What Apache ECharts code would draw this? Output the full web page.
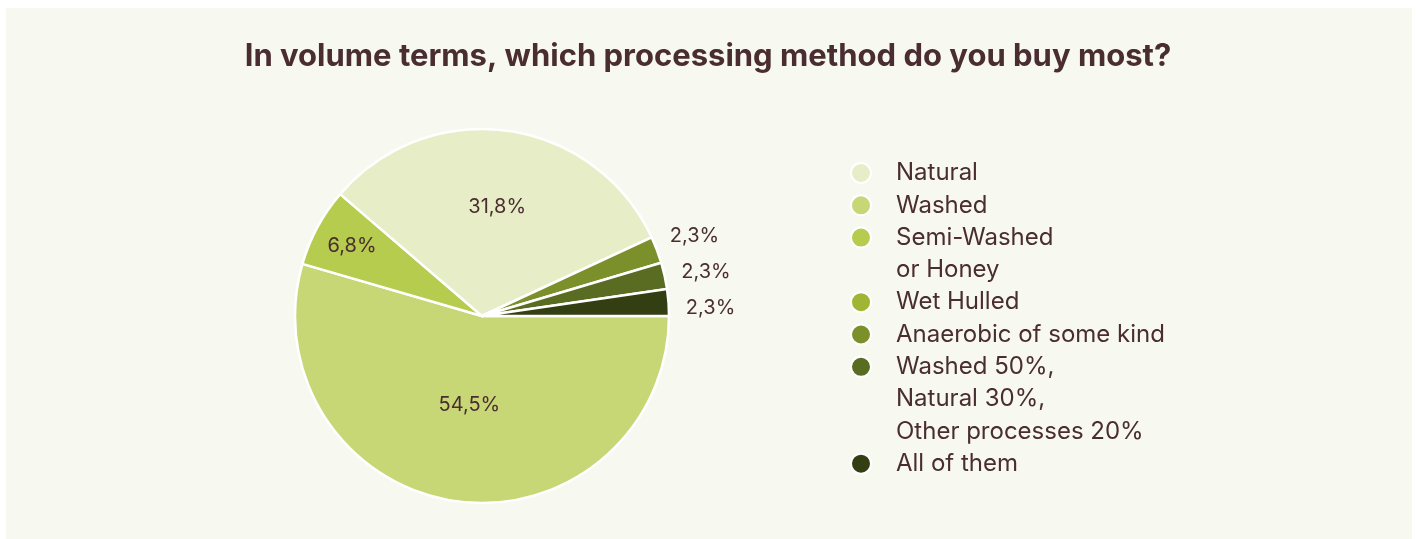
<!DOCTYPE html>
<html>
<head>
<meta charset="utf-8">
<title>Processing method</title>
<script src="https://cdn.jsdelivr.net/npm/echarts@6/dist/echarts.min.js"></script>
<style>
  html, body { margin: 0; padding: 0; background: #ffffff; }
  #chart { width: 1416px; height: 539px; }
</style>
</head>
<body>
<div id="chart"></div>
<script>
// Slices in drawing order (clockwise from 3 o'clock)
const sliceNames = [
  'Washed',
  'Semi-Washed\nor Honey',
  'Natural',
  'Wet Hulled',
  'Anaerobic of some kind',
  'Washed 50%,\nNatural 30%,\nOther processes 20%',
  'All of them'
];
const sliceValues = [54.5, 6.8, 31.8, 0, 2.3, 2.3, 2.3];
const sliceColors = ['#c8d776', '#b5cc4e', '#e7edc6', '#a0b534', '#7b8f2a', '#5a6b22', '#343e13'];

// Legend order
const legendOrder = [
  'Natural',
  'Washed',
  'Semi-Washed\nor Honey',
  'Wet Hulled',
  'Anaerobic of some kind',
  'Washed 50%,\nNatural 30%,\nOther processes 20%',
  'All of them'
];

const titleText = 'In volume terms, which processing method do you buy most?';

// Radial placement of the in-slice labels (fraction of radius); null = outside
const labelDepth = [0.48, 0.79, 0.59, null, null, null, null];

const TEXT = '#4a2d31';
const FONT = 'Inter, "Noto Sans", sans-serif';
const OUT_GAP = 17;      // distance of outside labels beyond the rim
const OUT_STEP = 36;     // vertical spacing between stacked outside labels
const chart = echarts.init(document.getElementById('chart'));

const fmtPct = v => v.toFixed(1).replace('.', ',') + '%';

const pieData = sliceNames.map((name, i) => ({
  name: name,
  value: sliceValues[i],
  itemStyle: { color: sliceColors[i] },
  label: { show: sliceValues[i] > 0 }
}));

// One legend block per entry; leading blank lines keep the dot level with the first text line
const LINE = 32.3;
const legends = [];
let lineIdx = 0;
legendOrder.forEach(name => {
  const n = name.split('\n').length;
  const c = 173 + lineIdx * LINE;
  legends.push({
    orient: 'vertical',
    left: 850,
    top: c - (2 * n - 1) * LINE / 2,
    padding: 0,
    icon: 'circle',
    itemWidth: 60,
    itemHeight: 20,
    symbolKeepAspect: true,
    selectedMode: false,
    formatter: nm => '\n'.repeat(n - 1) + nm,
    textStyle: {
      color: TEXT,
      fontFamily: FONT,
      fontSize: 24,
      lineHeight: LINE
    },
    data: [name]
  });
  lineIdx += n;
});

// Label placement computed from the pie's own sector layout
function sectorLayout(idx) {
  return chart.getModel().getSeriesByIndex(0).getData().getItemLayout(idx);
}

function placeLabel(params) {
  const i = params.dataIndex;
  const lay = sectorLayout(i);
  const mid = (lay.startAngle + lay.endAngle) / 2;
  const depth = labelDepth[i];
  if (depth !== null) {
    const d = lay.r * depth;
    return {
      x: lay.cx + d * Math.cos(mid),
      y: lay.cy + d * Math.sin(mid),
      align: 'center',
      verticalAlign: 'middle'
    };
  }
  // outside labels: stack evenly around their mean height, then sit them on a ring
  const outs = [];
  sliceValues.forEach((v, k) => {
    if (labelDepth[k] === null && v > 0) outs.push(k);
  });
  const R = lay.r + OUT_GAP;
  let meanSin = 0;
  outs.forEach(k => {
    const l = sectorLayout(k);
    meanSin += Math.sin((l.startAngle + l.endAngle) / 2);
  });
  meanSin /= outs.length;
  const rank = outs.indexOf(i);
  const dy = meanSin * R + (rank - (outs.length - 1) / 2) * OUT_STEP;
  const dx = Math.sqrt(Math.max(R * R - dy * dy, 0)) * (Math.cos(mid) >= 0 ? 1 : -1);
  return {
    x: lay.cx + dx,
    y: lay.cy + dy,
    align: dx >= 0 ? 'left' : 'right',
    verticalAlign: 'middle'
  };
}

chart.setOption({
  backgroundColor: '#ffffff',
  animation: false,
  graphic: [{
    type: 'rect',
    z: -10,
    silent: true,
    shape: { x: 6, y: 8, width: 1406, height: 531 },
    style: { fill: '#f7f8f0' }
  }],
  title: {
    text: titleText,
    left: 'center',
    top: 34,
    textStyle: {
      color: TEXT,
      fontFamily: FONT,
      fontWeight: 'bold',
      fontSize: 31,
      lineHeight: 36
    }
  },
  legend: legends,
  series: [{
    type: 'pie',
    center: [482, 316],
    radius: [0, 187],
    startAngle: 0,
    clockwise: true,
    avoidLabelOverlap: false,
    itemStyle: { borderColor: '#ffffff', borderWidth: 2.5 },
    label: {
      position: 'inside',
      color: TEXT,
      fontFamily: FONT,
      fontSize: 20,
      formatter: p => fmtPct(p.value)
    },
    labelLine: { show: false },
    labelLayout: placeLabel,
    emphasis: { disabled: true },
    data: pieData
  }]
});
</script>
</body>
</html>
